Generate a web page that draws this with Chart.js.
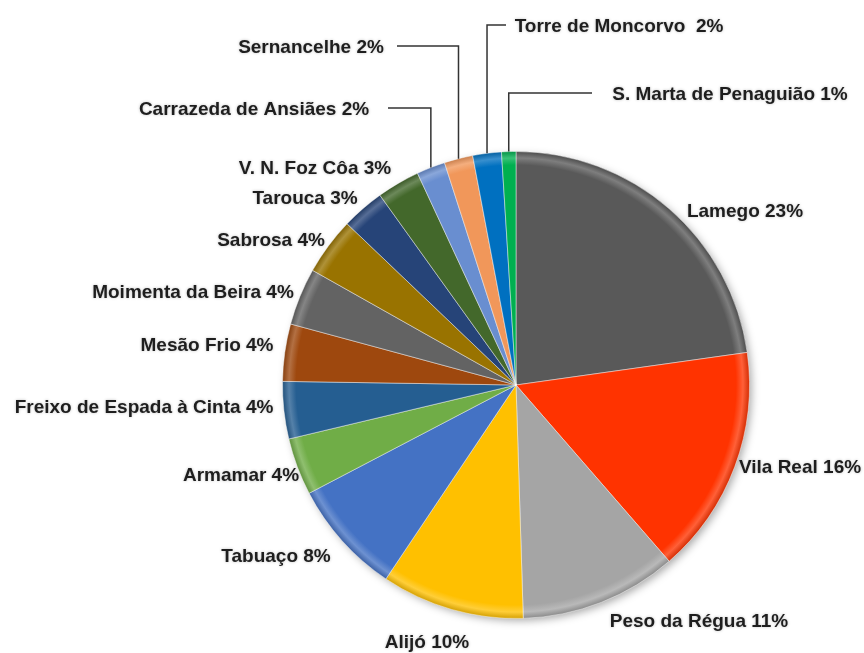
<!DOCTYPE html>
<html>
<head>
<meta charset="utf-8">
<script src="https://cdn.jsdelivr.net/npm/chart.js@4.4.1/dist/chart.umd.min.js"></script>
<style>
    html, body { margin: 0; padding: 0; background: #fff; }
    #wrap { width: 864px; height: 653px; position: relative; }
</style>
</head>
<body>
<div id="wrap"><canvas id="pie-chart"></canvas></div>
<script>
// Share of each municipality (%), clockwise from 12 o'clock
const municipalities = [
    'Lamego', 'Vila Real', 'Peso da Régua', 'Alijó', 'Tabuaço', 'Armamar',
    'Freixo de Espada à Cinta', 'Mesão Frio', 'Moimenta da Beira', 'Sabrosa',
    'Tarouca', 'V. N. Foz Côa', 'Carrazeda de Ansiães', 'Sernancelhe',
    'Torre de Moncorvo ', 'S. Marta de Penaguião'
];
const shares = [23, 16, 11, 10, 8, 4, 4, 4, 4, 4, 3, 3, 2, 2, 2, 1];
const sliceColors = [
    '#595959', '#FF3300', '#A5A5A5', '#FFC000', '#4472C4', '#70AD47',
    '#255E91', '#9E480E', '#636363', '#997300', '#264478', '#43682B',
    '#698ED0', '#F1975A', '#0070C0', '#00B050'
];

// label placement (layout only): centre x, centre y
const labelAnchors = [
    [745, 212], [800, 468], [699, 622], [427, 643], [276, 557], [241, 476],
    [144, 408], [207, 346], [193, 293], [271, 241], [305, 199], [315, 169],
    [254, 110], [311, 48], [619, 27], [730, 95]
];
// leader lines: index -> x where the horizontal part starts
const leaders = { 12: 388, 13: 397, 14: 506, 15: 592 };

function shade(hex, amt) {
    const n = parseInt(hex.slice(1), 16);
    let r = (n >> 16) & 255, g = (n >> 8) & 255, b = n & 255;
    const f = (c) => Math.round(amt >= 0 ? c + (255 - c) * amt : c * (1 + amt));
    return `rgb(${f(r)}, ${f(g)}, ${f(b)})`;
}

function bevelFill(context) {
    const chart = context.chart;
    const base = sliceColors[context.dataIndex];
    const area = chart.chartArea;
    if (!area) return base;
    const cx = (area.left + area.right) / 2;
    const cy = (area.top + area.bottom) / 2;
    const r = Math.min(area.right - area.left, area.bottom - area.top) / 2;
    const g = chart.ctx.createRadialGradient(cx, cy, 0, cx, cy, r);
    g.addColorStop(0, base);
    g.addColorStop(0.94, base);
    g.addColorStop(0.97, shade(base, 0.22));
    g.addColorStop(1, shade(base, -0.18));
    return g;
}

const pieShadow = {
    id: 'pieShadow',
    beforeDatasetsDraw(chart) {
        const arc = chart.getDatasetMeta(0).data[0];
        if (!arc) return;
        const ctx = chart.ctx;
        ctx.save();
        ctx.shadowColor = 'rgba(0,0,0,0.35)';
        ctx.shadowBlur = 8;
        ctx.shadowOffsetX = 3;
        ctx.shadowOffsetY = 3;
        ctx.fillStyle = '#888';
        ctx.beginPath();
        ctx.arc(arc.x, arc.y, arc.outerRadius - 1, 0, Math.PI * 2);
        ctx.fill();
        ctx.restore();
    }
};

const sliceLabels = {
    id: 'sliceLabels',
    afterDatasetsDraw(chart) {
        const ctx = chart.ctx;
        const meta = chart.getDatasetMeta(0);
        ctx.save();
        ctx.font = 'bold 19px "Liberation Sans", Arial, sans-serif';
        ctx.textAlign = 'center';
        ctx.textBaseline = 'middle';
        meta.data.forEach((arc, i) => {
            const text = `${municipalities[i]} ${shares[i]}%`;
            const [lx, ly] = labelAnchors[i];
            ctx.shadowColor = 'rgba(0,0,0,0.25)';
            ctx.shadowBlur = 3;
            ctx.fillStyle = '#1e1e1e';
            ctx.fillText(text, lx, ly);
            ctx.shadowColor = 'transparent';
            if (leaders[i] !== undefined) {
                const mid = (arc.startAngle + arc.endAngle) / 2;
                const px = arc.x + Math.cos(mid) * arc.outerRadius;
                const py = arc.y + Math.sin(mid) * arc.outerRadius;
                ctx.strokeStyle = '#333';
                ctx.lineWidth = 1.5;
                ctx.beginPath();
                ctx.moveTo(leaders[i], ly - 2);
                ctx.lineTo(px, ly - 2);
                ctx.lineTo(px, py);
                ctx.stroke();
            }
        });
        ctx.restore();
    }
};

new Chart(document.getElementById('pie-chart'), {
    type: 'pie',
    data: {
        labels: municipalities,
        datasets: [{
            data: shares,
            backgroundColor: bevelFill,
            borderColor: 'rgba(255,255,255,0.45)',
            borderWidth: 1
        }]
    },
    options: {
        responsive: true,
        maintainAspectRatio: false,
        animation: false,
        layout: { padding: { left: 282, right: 114, top: 151, bottom: 34 } },
        plugins: {
            legend: { display: false },
            tooltip: { enabled: false }
        }
    },
    plugins: [pieShadow, sliceLabels]
});
</script>
</body>
</html>
